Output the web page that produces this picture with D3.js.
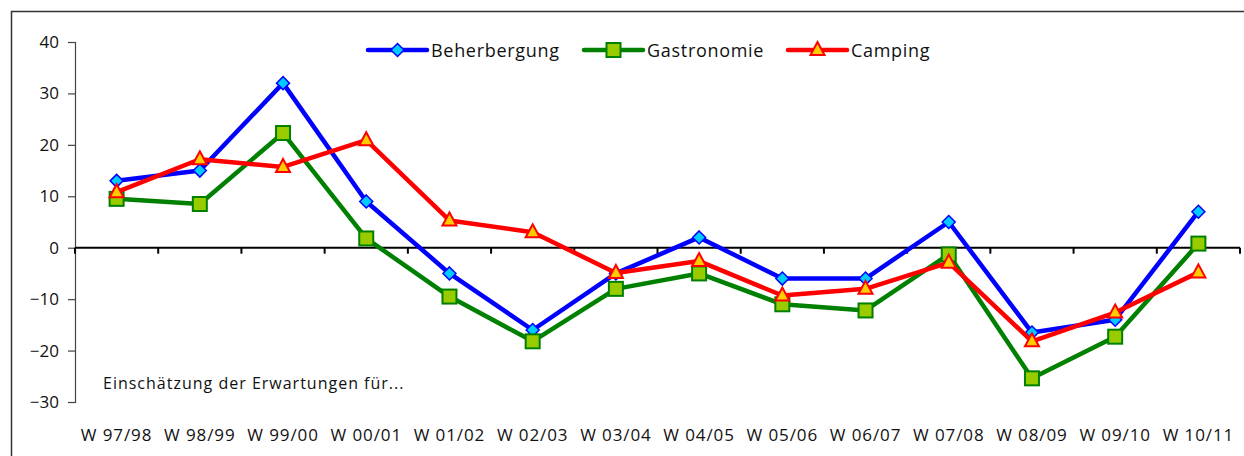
<!DOCTYPE html>
<html>
<head>
<meta charset="utf-8">
<script src="https://cdn.jsdelivr.net/npm/d3@7"></script>
<style>
  body { margin: 0; background: #fff; }
  svg { display: block; font-family: "Open Sans", "DejaVu Sans", sans-serif; }
</style>
</head>
<body>
<div id="container"></div>
<script>
const seasons = ["W 97/98", "W 98/99", "W 99/00", "W 00/01", "W 01/02", "W 02/03", "W 03/04",
  "W 04/05", "W 05/06", "W 06/07", "W 07/08", "W 08/09", "W 09/10", "W 10/11"];
const beherbergung = [13, 15, 32, 9, -5, -16, -5, 2, -6, -6, 5, -16.5, -14, 7];
const gastronomie = [9.5, 8.5, 22.3, 1.8, -9.5, -18.2, -8, -5, -11, -12.2, -1.3, -25.4, -17.3, 0.8];
const camping = [10.8, 17.2, 15.7, 20.9, 5.3, 3, -4.9, -2.6, -9.3, -8, -2.9, -18.2, -12.6, -4.8];
const yTicks = [40, 30, 20, 10, 0, -10, -20, -30];
const annotation = "Einschätzung der Erwartungen für...";

const series = [
  {name: "Beherbergung", values: beherbergung, line: "#0000ff", fill: "#00ccff", shape: "diamond"},
  {name: "Gastronomie", values: gastronomie, line: "#008000", fill: "#99cc00", shape: "square"},
  {name: "Camping", values: camping, line: "#ff0000", fill: "#ffcc00", shape: "triangle"}
];

const w = 1244, h = 456;
const svg = d3.select("#container").append("svg").attr("width", w).attr("height", h);

// outer frame, runs off right and bottom like the original
svg.append("rect").attr("x", 11.5).attr("y", 11.5).attr("width", 1260).attr("height", 470)
  .attr("fill", "none").attr("stroke", "#333").attr("stroke-width", 1.5);

const xScale = d3.scaleBand().domain(seasons).range([75, 1240]);
const yScale = d3.scaleLinear().domain([-30, 40]).range([402, 42]);

// y axis
const yAxis = d3.axisLeft(yScale).tickValues(yTicks).tickSize(7).tickPadding(9).tickFormat(d3.format("d"));
const yAxisGroup = svg.append("g").attr("transform", "translate(75,0)").call(yAxis);
yAxisGroup.select(".domain").attr("stroke", "#444").attr("stroke-width", 1.2);
yAxisGroup.selectAll(".tick line").attr("stroke", "#444").attr("stroke-width", 1.2);
yAxisGroup.selectAll("text").attr("font-size", 17).attr("fill", "#111").style("font-family", "Open Sans");

// x axis sits on zero
const xAxisGroup = svg.append("g").attr("transform", `translate(0,${yScale(0)})`);
xAxisGroup.append("line").attr("x1", 75).attr("x2", 1240).attr("stroke", "#000").attr("stroke-width", 2);
const bounds = seasons.map(s => xScale(s)).concat([1240]);
xAxisGroup.selectAll(".xt").data(bounds).enter().append("line")
  .attr("x1", d => d).attr("x2", d => d).attr("y1", 0).attr("y2", 6)
  .attr("stroke", "#000").attr("stroke-width", 2);

svg.append("g").selectAll("text").data(seasons).enter().append("text")
  .attr("x", d => xScale(d) + xScale.bandwidth() / 2)
  .attr("y", 441)
  .attr("text-anchor", "middle")
  .attr("font-size", 17).attr("letter-spacing", 0.9).attr("fill", "#111")
  .text(d => d);

svg.append("text").attr("x", 103).attr("y", 389).attr("font-size", 16).attr("letter-spacing", 1)
  .attr("fill", "#111").text(annotation);

const cx = i => xScale(seasons[i]) + xScale.bandwidth() / 2;

function marker(g, shape, fill, stroke) {
  if (shape === "diamond") {
    g.append("path").attr("d", "M0,-6.5L6.5,0L0,6.5L-6.5,0Z").attr("fill", fill).attr("stroke", stroke).attr("stroke-width", 1.5);
  } else if (shape === "square") {
    g.append("rect").attr("x", -7).attr("y", -7).attr("width", 14).attr("height", 14)
      .attr("fill", fill).attr("stroke", stroke).attr("stroke-width", 2);
  } else {
    g.append("path").attr("d", "M0,-8L7,5L-7,5Z").attr("fill", fill).attr("stroke", stroke).attr("stroke-width", 2);
  }
}

const line = d3.line().x((d, i) => cx(i)).y(d => yScale(d));

series.forEach(s => {
  svg.append("path").datum(s.values).attr("d", line)
    .attr("fill", "none").attr("stroke", s.line).attr("stroke-width", 4.5).attr("stroke-linejoin", "round");
  s.values.forEach((v, i) => {
    const g = svg.append("g").attr("transform", `translate(${cx(i)},${yScale(v)})`);
    marker(g, s.shape, s.fill, s.line);
  });
});

// legend
const legendX = [368, 584, 788];
series.forEach((s, i) => {
  const lg = svg.append("g").attr("transform", `translate(${legendX[i]},50)`);
  lg.append("line").attr("x1", 0).attr("x2", 59).attr("stroke", s.line).attr("stroke-width", 4.5).attr("stroke-linecap", "round");
  const m = lg.append("g").attr("transform", "translate(29.5,0)");
  marker(m, s.shape, s.fill, s.line);
  lg.append("text").attr("x", 63).attr("y", 7).attr("font-size", 18).attr("letter-spacing", 0.7)
    .attr("fill", "#111").text(s.name);
});
</script>
</body>
</html>
